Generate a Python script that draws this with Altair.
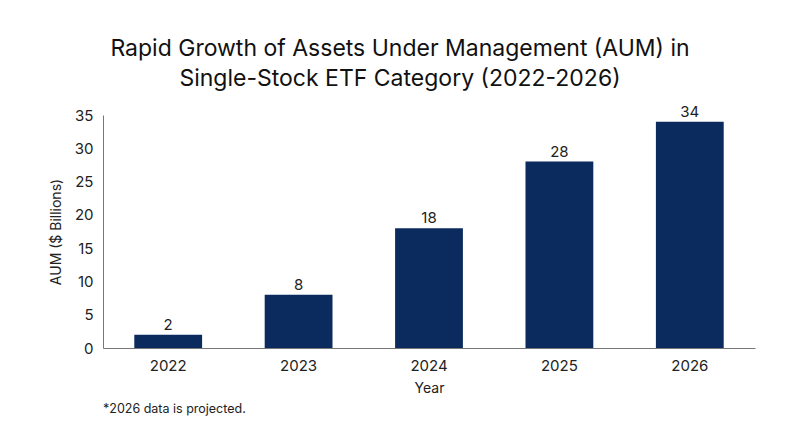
import altair as alt
import pandas as pd

years = ["2022", "2023", "2024", "2025", "2026"]
aum = [2, 8, 18, 28, 34]
footnote = ["*2026 data is projected."]

FONT = "Inter"
NAVY = "#0b2a5e"

df = pd.DataFrame({"Year": years, "AUM": aum})

x_enc = alt.X("Year:N", sort=years,
              scale=alt.Scale(paddingInner=0.48, paddingOuter=0.24),
              axis=alt.Axis(title="Year", labelAngle=0, ticks=False, labelPadding=10,
                            titlePadding=8, domainColor="#777777", labelFontSize=15,
                            titleFontSize=14, labelFont=FONT, titleFont=FONT,
                            labelColor="#222222", titleColor="#222222",
                            titleFontWeight="normal"))
y_enc = alt.Y("AUM:Q", scale=alt.Scale(domain=[0, 35]),
              axis=alt.Axis(title="AUM ($ Billions)", values=[0, 5, 10, 15, 20, 25, 30, 35],
                            ticks=False, grid=False, labelPadding=10, titlePadding=11,
                            labelOverlap=False,
                            domainColor="#777777", labelFontSize=15, titleFontSize=14,
                            labelFont=FONT, titleFont=FONT, labelColor="#222222",
                            titleColor="#222222", titleFontWeight="normal"))

base = alt.Chart(df).encode(x=x_enc, y=y_enc)

bars = base.mark_bar(color=NAVY)

labels = base.mark_text(dy=-10, fontSize=15, font=FONT, color="#222222").encode(
    text="AUM:Q",
)

note = alt.Chart(pd.DataFrame({"t": footnote})).mark_text(
    align="left", baseline="middle", fontSize=12.5, font=FONT, color="#222222"
).encode(x=alt.value(0), y=alt.value(294), text="t:N")

chart = alt.layer(bars, labels, note).properties(
    width=652, height=233,
    title=alt.TitleParams(
        ["Rapid Growth of Assets Under Management (AUM) in",
         "Single-Stock ETF Category (2022-2026)"],
        font=FONT, fontSize=23, fontWeight="normal", color="#111111",
        anchor="middle", dx=-29, offset=14, lineHeight=30),
    autosize=alt.AutoSizeParams(type="none"),
    padding={"left": 95, "top": 107, "right": 37, "bottom": 91},
).configure_view(stroke=None)

chart.save("out.html", embed_options={"renderer": "svg", "actions": False})
